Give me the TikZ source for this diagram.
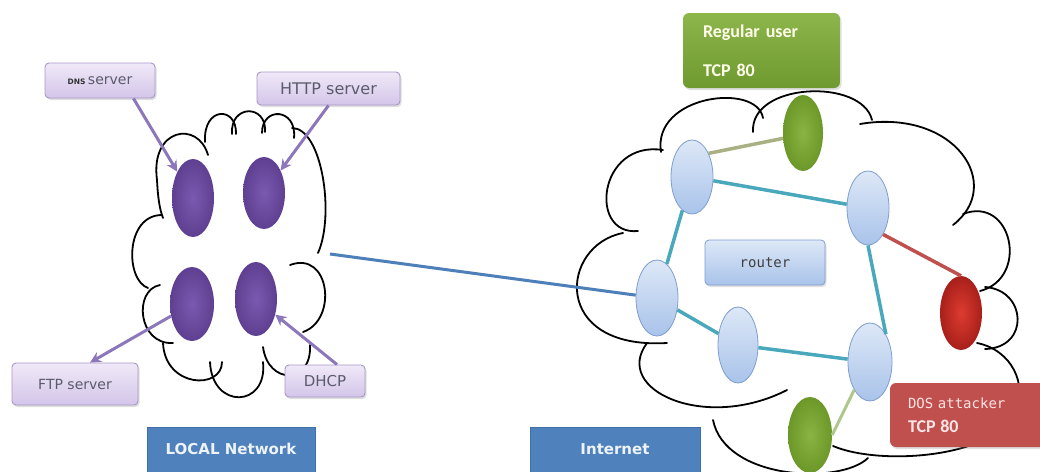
\documentclass[tikz,border=0pt]{standalone}
\usepackage{fontspec}
\setmainfont{DejaVu Sans}
\newfontfamily\carl{Carlito}
\newfontfamily\dmono{DejaVu Sans Mono}
\usetikzlibrary{shapes.geometric,arrows.meta,shadows,calc}
\definecolor{lavtop}{HTML}{F0E9F8}
\definecolor{lavbot}{HTML}{D3C5E9}
\definecolor{lavborder}{HTML}{A898C6}
\definecolor{lavtext}{HTML}{5B5B6B}
\definecolor{arrowpur}{HTML}{8D77BB}
\definecolor{purin}{HTML}{7A5AAF}
\definecolor{purout}{HTML}{5E3F91}
\definecolor{tealline}{HTML}{4AA8BD}
\definecolor{linkblue}{HTML}{4D7FB8}
\definecolor{oliveline}{HTML}{A9B182}
\definecolor{lgline}{HTML}{AEC78A}
\definecolor{redline}{HTML}{C0504D}
\definecolor{labelblue}{HTML}{4F81BD}
\definecolor{labelborder}{HTML}{3F6FA8}
\definecolor{gtop}{HTML}{8DB64C}
\definecolor{gbot}{HTML}{6E9A30}
\definecolor{redbox}{HTML}{C0504D}
\definecolor{gin}{HTML}{8AB443}
\definecolor{gout}{HTML}{6C9829}
\definecolor{rin}{HTML}{DD3B30}
\definecolor{rout}{HTML}{A8201A}
\definecolor{lbtop}{HTML}{DDE8F7}
\definecolor{lbbot}{HTML}{A9C3EA}
\definecolor{lbborder}{HTML}{7F9DD0}
\begin{document}
\begin{tikzpicture}[x=1pt,y=-1pt,
  cloudline/.style={draw=black,line width=1.8pt,line cap=round},
  lavbox/.style={draw=lavborder,line width=0.9pt,rounded corners=4pt,top color=lavtop,bottom color=lavbot,
    text=lavtext,inner sep=0pt,font=\fontsize{14}{16}\selectfont,
    drop shadow={opacity=0.25,shadow xshift=1.5pt,shadow yshift=-2pt}},
  parrow/.style={draw=arrowpur,line width=3pt,-{Stealth[length=11pt,width=11pt]}},
  purell/.style={ellipse,inner sep=0pt,draw=none,inner color=purin,outer color=purout},
  lbell/.style={ellipse,inner sep=0pt,draw=lbborder,line width=0.8pt,top color=lbtop,bottom color=lbbot},
  gell/.style={ellipse,inner sep=0pt,draw=none,inner color=gin,outer color=gout},
  rell/.style={ellipse,inner sep=0pt,draw=none,inner color=rin,outer color=rout},
  labelbox/.style={draw=labelborder,line width=0.8pt,fill=labelblue,text=white!90!labelblue,inner sep=0pt,
    font=\fontsize{15}{17}\selectfont\bfseries},
  teal/.style={draw=tealline,line width=3.5pt},
]
\useasboundingbox (0,0) rectangle (1040,471);
\clip (0,0) rectangle (1040,471);
\fill[white] (0,0) rectangle (1040,471);

% ---------- left cloud ----------
\draw[cloudline] (208,155) .. controls (198,120) and (150,128) .. (157,180) .. controls (158,200) and (160,210) .. (163,218);
\draw[cloudline] (205,142) .. controls (203,106) and (237,106) .. (236,134);
\draw[cloudline] (232,134) .. controls (230,104) and (267,104) .. (265,132);
\draw[cloudline] (262,133) .. controls (262,106) and (297,108) .. (294,138);
\draw[cloudline] (292,128) .. controls (322,128) and (335,215) .. (318,253);
\draw[cloudline] (290,265) .. controls (330,250) and (338,320) .. (303,332);
\draw[cloudline] (263,347) .. controls (268,385) and (312,385) .. (310,345);
\draw[cloudline] (263,362) .. controls (268,408) and (212,410) .. (210,362);
\draw[cloudline] (222,362) .. controls (222,390) and (165,388) .. (163,343);
\draw[cloudline] (173,343) .. controls (138,345) and (133,290) .. (160,285);
\draw[cloudline] (148,288) .. controls (125,280) and (125,215) .. (162,215);

% ---------- right cloud ----------
\draw[cloudline] (661,152) .. controls (652,95) and (757,82) .. (763,118);
\draw[cloudline] (753,132) .. controls (750,82) and (862,78) .. (872,120);
\draw[cloudline] (860,124) .. controls (955,108) and (1005,185) .. (953,225);
\draw[cloudline] (963,214) .. controls (1012,195) and (1030,278) .. (980,291);
\draw[cloudline] (985,287) .. controls (1027,290) and (1030,348) .. (985,349);
\draw[cloudline] (977,343) .. controls (1012,350) and (1028,385) .. (1015,412) .. controls (995,458) and (880,466) .. (833,446);
\draw[cloudline] (713,420) .. controls (725,480) and (840,485) .. (868,458);
\draw[cloudline] (647,343) .. controls (612,390) and (705,432) .. (787,390);
\draw[cloudline] (623,233) .. controls (560,245) and (550,350) .. (667,343);
\draw[cloudline] (663,150) .. controls (598,140) and (588,236) .. (638,231);

% ---------- left network nodes ----------
\node[purell,minimum width=42pt,minimum height=78pt] (dnsell) at (193,198) {};
\node[purell,minimum width=42pt,minimum height=72pt] (httpell) at (264,193) {};
\node[purell,minimum width=44pt,minimum height=74pt] (ftpell) at (192,304) {};
\node[purell,minimum width=42pt,minimum height=74pt] (dhcpell) at (256,299) {};

\node[lavbox,minimum width=110pt,minimum height=35pt] (dns) at (100,80.5)
  {{\fontsize{7.5}{8}\selectfont\bfseries\color{black!80}DNS}\,server};
\node[lavbox,minimum width=143pt,minimum height=33pt,font=\fontsize{16}{18}\selectfont] (http) at (328.5,88.5) {HTTP server};
\node[lavbox,minimum width=126pt,minimum height=42pt] (ftp) at (75,384) {FTP server};
\node[lavbox,minimum width=80pt,minimum height=32pt,font=\fontsize{15}{17}\selectfont] (dhcp) at (325,381) {DHCP};

\draw[parrow] ([xshift=-22pt]dns.south east) -- (dnsell);
\draw[parrow] (http.south) -- (httpell);
\draw[parrow] (ftpell) -- ([xshift=15pt]ftp.north);
\draw[parrow] ([xshift=12pt]dhcp.north) -- (dhcpell);

\node[labelbox,minimum width=168pt,minimum height=48pt] (lan) at (231,451) {\raisebox{4pt}{LOCAL Network}};

% ---------- internet nodes ----------
\node[lbell,minimum width=42pt,minimum height=74pt] (A) at (692,177) {};
\node[lbell,minimum width=42pt,minimum height=74pt] (B) at (868,208) {};
\node[lbell,minimum width=42pt,minimum height=76pt] (C) at (657,298) {};
\node[lbell,minimum width=40pt,minimum height=76pt] (D) at (738,345) {};
\node[lbell,minimum width=44pt,minimum height=78pt] (E) at (870,362) {};
\node[gell,minimum width=40pt,minimum height=76pt] (G1) at (803,133) {};
\node[gell,minimum width=44pt,minimum height=76pt] (G2) at (810,435) {};
\node[rell,minimum width=42pt,minimum height=74pt] (R) at (961,313) {};

\coordinate (lanlink) at (330,254);
\draw[draw=linkblue,line width=3pt] (lanlink) -- (C);

\draw[draw=oliveline,line width=3.5pt] (A.55) -- (G1.195);
\draw[teal] (A) -- (B);
\draw[teal] (A) -- (C);
\draw[teal] (C) -- (D);
\draw[teal] (D) -- (E);
\draw[teal] (B.south) -- (E.north east);
\draw[draw=redline,line width=3.5pt] (B.south east) -- (R.north);
\draw[draw=lgline,line width=3pt] (E.south west) -- (G2.east);

\node[draw=lbborder,line width=0.8pt,rounded corners=4pt,top color=lbtop,bottom color=lbbot,
  minimum width=120pt,minimum height=45pt,inner sep=0pt,text=black!75,
  font=\dmono\fontsize{14}{16}\selectfont,
  drop shadow={opacity=0.25,shadow xshift=1.5pt,shadow yshift=-2pt}] (router) at (765,262.5) {router};

\node[rounded corners=6pt,top color=gtop,bottom color=gbot,minimum width=157pt,minimum height=75pt,
  text width=117pt,inner xsep=20pt,inner ysep=0pt,align=left,text=white!92!yellow,
  font=\carl\bfseries\fontsize{18}{22}\selectfont,
  drop shadow={opacity=0.25,shadow xshift=1.5pt,shadow yshift=-2pt}] (user) at (761.5,50.5)
  {Regular user\\[17pt]TCP 80};

\node[rounded corners=6pt,fill=redbox,minimum width=160pt,minimum height=64pt,
  text width=124pt,inner xsep=18pt,inner ysep=0pt,align=left,text=white!90!red,
  font=\fontsize{14}{24}\selectfont,
  drop shadow={opacity=0.25,shadow xshift=1.5pt,shadow yshift=-2pt}] (dos) at (970,415)
  {{\dmono\fontsize{14}{24}\selectfont DOS attacker}\\{\carl\bfseries\fontsize{18}{24}\selectfont TCP 80}};

\node[labelbox,minimum width=170pt,minimum height=48pt] (inet) at (615,451) {\raisebox{4pt}{Internet}};
\end{tikzpicture}
\end{document}
